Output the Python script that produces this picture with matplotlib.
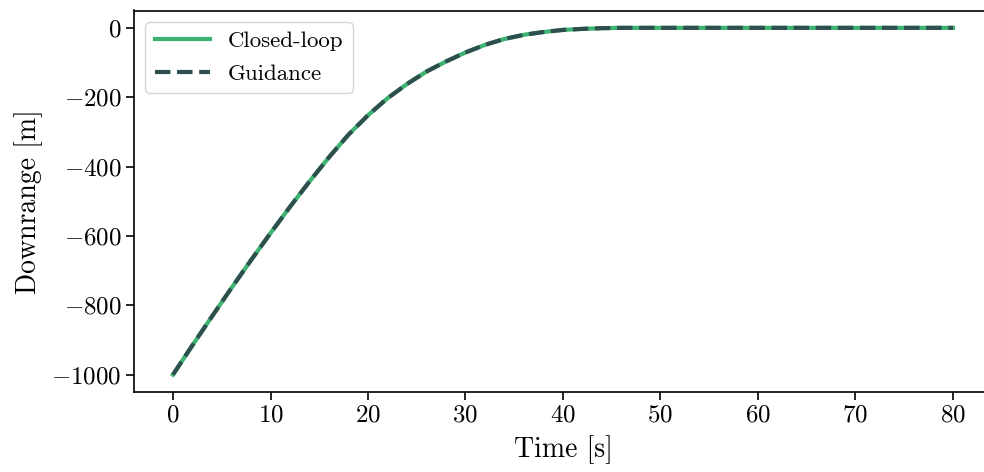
import matplotlib
matplotlib.use("Agg")
import matplotlib.pyplot as plt

plt.rcParams['font.family'] = 'serif'
plt.rcParams['font.serif'] = ['cmr10']
plt.rcParams['mathtext.fontset'] = 'cm'
plt.rcParams['axes.formatter.use_mathtext'] = True
plt.rcParams['axes.unicode_minus'] = True

time_s = [0, 2, 4, 6, 8, 10, 12, 14, 16, 18, 20, 22, 24, 26, 28, 30, 32, 34, 36,
          38, 40, 42, 44, 46, 50, 55, 60, 65, 70, 75, 80]
guidance = [-1000, -915, -832, -750, -670, -592, -516, -443, -373, -308, -252,
            -203, -162, -126, -97, -71, -49, -32, -20, -12, -6, -3, -1, 0, 0,
            0, 0, 0, 0, 0, 0]
closed_loop = list(guidance)

fig = plt.figure(figsize=(9.84, 4.72), dpi=100)
ax = fig.add_axes([134 / 984, 80 / 472, 858 / 984, 381.5 / 472])

ax.plot(time_s, closed_loop, color='#3cb371', lw=3, label='Closed-loop')
ax.plot(time_s, guidance, color='#2f4f4f', lw=3, ls='--', label='Guidance')

ax.set_xlabel('Time [s]', fontsize=20, labelpad=6)
ax.set_ylabel('Downrange [m]', fontsize=20, labelpad=6)
ax.set_xticks([0, 10, 20, 30, 40, 50, 60, 70, 80])
ax.set_yticks([0, -200, -400, -600, -800, -1000])
ax.tick_params(labelsize=18, length=5.5, width=1.2)
for s in ax.spines.values():
    s.set_linewidth(1.2)
ax.legend(loc='upper left', fontsize=16.5, handlelength=2.4,
          borderaxespad=0.5, labelspacing=0.55)

fig.savefig('out.png', dpi=100)
